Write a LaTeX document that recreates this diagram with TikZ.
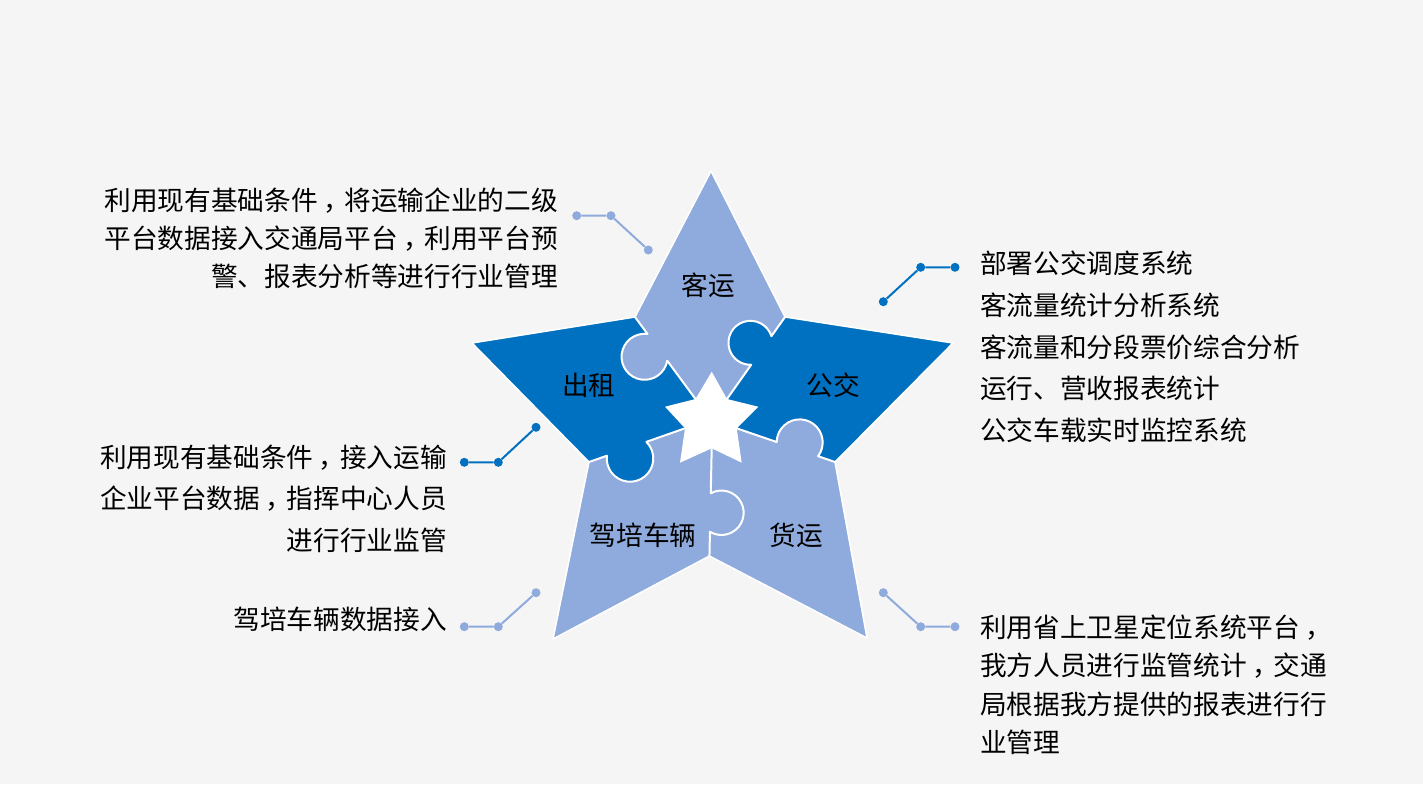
\documentclass[tikz,border=0pt]{standalone}
\usepackage{fontspec}
\newfontfamily\cjk{Noto Sans CJK SC}
\newcommand\zcomma{\makebox[1em][l]{\hspace{0.2em}，}}
\definecolor{lightb}{HTML}{8FAADC}
\definecolor{darkb}{HTML}{0070C0}
\definecolor{bgc}{HTML}{F5F5F5}
\begin{document}
\begin{tikzpicture}[x=1pt,y=1pt,yscale=-1,
  txt/.style={font=\cjk\fontsize{26.67}{32}\selectfont, inner sep=0pt, text=black},
  txtr/.style={txt, anchor=base east},
  txtl/.style={txt, anchor=base west},
  lbl/.style={txt, anchor=base},
  dotl/.style={circle, fill=lightb, inner sep=0pt, minimum size=9pt},
  dotd/.style={circle, fill=darkb, inner sep=0pt, minimum size=9pt},
  lnl/.style={draw=lightb, line width=2pt},
  lnd/.style={draw=darkb, line width=2pt},
  wline/.style={draw=white, line width=2pt, line join=round}]
% background
\fill[bgc] (0,0) rectangle (1423,784);
% big star vertices
\coordinate (T) at (711,171);
\coordinate (UR) at (785,317);
\coordinate (R) at (953,343);
\coordinate (LR) at (835,462);
\coordinate (BR) at (867,638);
\coordinate (BI) at (709.4,556);
\coordinate (BL) at (553,639);
\coordinate (LL) at (589,462);
\coordinate (L) at (472,343);
\coordinate (UL) at (635,317);
% small star vertices
\coordinate (sT) at (711.7,371.7);
\coordinate (sUR) at (727,399);
\coordinate (sR) at (758.3,406.7);
\coordinate (sLR) at (736.7,428.3);
\coordinate (sBR) at (741.7,462.7);
\coordinate (sB) at (711.7,448.3);
\coordinate (sBL) at (680,462.7);
\coordinate (sLL) at (685,428.3);
\coordinate (sL) at (665,406.7);
\coordinate (sUL) at (695.5,399);
% fills
\fill[lightb] (T)--(UR)--(R)--(LR)--(BR)--(BI)--(BL)--(LL)--(L)--(UL)--cycle;
\fill[darkb] (UL)--(L)--(LL)--(sLL)--(sUL)--cycle;
\fill[darkb] (UR)--(R)--(LR)--(sLR)--(sUR)--cycle;
% knob fills
\begin{scope}[shift={(635,317)},rotate=53.6]
  \fill[lightb] (37.7,15.9) circle[radius=23];
\end{scope}
\begin{scope}[shift={(785,317)},rotate=125.3]
  \fill[darkb] (41,13.3) circle[radius=22];
\end{scope}
\begin{scope}[shift={(589,462)},rotate=-19.35]
  \fill[darkb] (39.9,10.2) circle[radius=23.3];
\end{scope}
\begin{scope}[shift={(835,462)},rotate=-161.1]
  \fill[lightb] (39.8,7.1) circle[radius=23];
\end{scope}
% white boundaries
\begin{scope}[shift={(635,317)},rotate=53.6]
  \draw[wline] (0,0) -- (21.1,0) arc[start angle=223.8,end angle=-43.8,radius=23] -- (101.9,0);
\end{scope}
\begin{scope}[shift={(785,317)},rotate=125.3]
  \draw[wline] (0,0) -- (23.5,0) arc[start angle=217.2,end angle=-37.2,radius=22] -- (100.4,0);
\end{scope}
\begin{scope}[shift={(589,462)},rotate=-19.35]
  \draw[wline] (0,0) -- (18.95,0) arc[start angle=206,end angle=-26,radius=23.3] -- (101.7,0);
\end{scope}
\begin{scope}[shift={(835,462)},rotate=-161.1]
  \draw[wline] (0,0) -- (17.9,0) arc[start angle=198,end angle=-18,radius=23] -- (103.9,0);
\end{scope}
\begin{scope}[shift={(711.7,448.3)},rotate=91.2]
  \draw[wline] (0,0) -- (45,0) arc[start angle=150,end angle=390,radius=22.2] -- (107.7,0);
\end{scope}
% small white star
\fill[white] (sT)--(sUR)--(sR)--(sLR)--(sBR)--(sB)--(sBL)--(sLL)--(sL)--(sUL)--cycle;
% outer outline
\draw[white, line width=1.5pt, line join=round] (T)--(UR)--(R)--(LR)--(BR)--(BI)--(BL)--(LL)--(L)--(UL)--cycle;
% star labels
\node[lbl] (kyun) at (708.3,295) {客运};
\node[lbl] (chuzu) at (588.7,395) {出租};
\node[lbl] (gongjiao) at (833,395) {公交};
\node[lbl] (jiapei) at (643.3,545) {驾培车辆};
\node[lbl] (huoyun) at (796,545) {货运};
% text blocks
\node[txtr] (tl1) at (558,210) {利用现有基础条件\zcomma 将运输企业的二级};
\node[txtr] (tl2) at (558,248.5) {平台数据接入交通局平台\zcomma 利用平台预};
\node[txtr] (tl3) at (558,286) {警、报表分析等进行行业管理};
\node[txtr] (ml1) at (447,467) {利用现有基础条件\zcomma 接入运输};
\node[txtr] (ml2) at (447,508) {企业平台数据\zcomma 指挥中心人员};
\node[txtr] (ml3) at (447,550) {进行行业监管};
\node[txtr] (bl1) at (447,629) {驾培车辆数据接入};
\node[txtl] (tr1) at (980,273) {部署公交调度系统};
\node[txtl] (tr2) at (980,315) {客流量统计分析系统};
\node[txtl] (tr3) at (980,357) {客流量和分段票价综合分析};
\node[txtl] (tr4) at (980,398) {运行、营收报表统计};
\node[txtl] (tr5) at (980,440) {公交车载实时监控系统};
\node[txtl] (br1) at (980,637) {利用省上卫星定位系统平台\zcomma};
\node[txtl] (br2) at (980,675) {我方人员进行监管统计\zcomma 交通};
\node[txtl] (br3) at (980,714) {局根据我方提供的报表进行行};
\node[txtl] (br4) at (980,752) {业管理};
% connectors
\node[dotl] (a1) at (576.7,215.7) {};
\node[dotl] (a2) at (611,215.7) {};
\node[dotl] (a3) at (648.3,250) {};
\draw[lnl] (a1)--(a2)--(a3);
\node[dotd] (b1) at (883.3,301.7) {};
\node[dotd] (b2) at (920.7,267.3) {};
\node[dotd] (b3) at (955,267.3) {};
\draw[lnd] (b1)--(b2)--(b3);
\node[dotd] (c1) at (464.3,462.3) {};
\node[dotd] (c2) at (498.3,462.3) {};
\node[dotd] (c3) at (536,427.3) {};
\draw[lnd] (c1)--(c2)--(c3);
\node[dotl] (d1) at (464.3,626.7) {};
\node[dotl] (d2) at (498.3,626.7) {};
\node[dotl] (d3) at (536,592.7) {};
\draw[lnl] (d1)--(d2)--(d3);
\node[dotl] (e1) at (883.3,592.7) {};
\node[dotl] (e2) at (920.7,626.7) {};
\node[dotl] (e3) at (955,626.7) {};
\draw[lnl] (e1)--(e2)--(e3);
\end{tikzpicture}
\end{document}
